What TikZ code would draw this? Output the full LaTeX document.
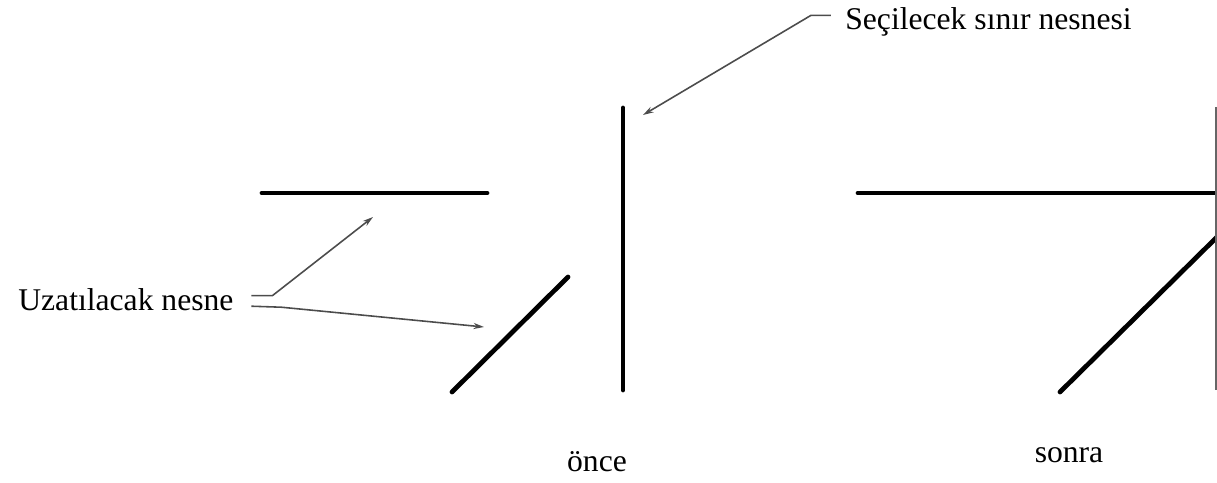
\documentclass[tikz,border=0pt]{standalone}
\usepackage{fontspec}
\setmainfont{Liberation Serif}
\usepackage{tikz}
\usetikzlibrary{arrows.meta,positioning}

\begin{document}
\begin{tikzpicture}[
  x=0.02cm, y=-0.02cm,
  >=Stealth,
  obj/.style={line width=2.7pt, line cap=round},
  ldr/.style={draw=black!70, line width=0.9pt,
              -{Stealth[length=6pt,width=3.5pt]}},
  lbl/.style={font=\fontsize{18}{20}\selectfont, inner sep=0pt},
]
  \useasboundingbox (0,0) rectangle (1217,483);

  %% before: objects to extend and the boundary
  \coordinate (h1a) at (262,193);
  \coordinate (h1b) at (487,193);
  \coordinate (d1a) at (452,392);
  \coordinate (d1b) at (568,277);
  \coordinate (v1a) at (623,108);
  \coordinate (v1b) at (623,390);
  \draw[obj] (h1a) -- (h1b);
  \draw[obj] (d1a) -- (d1b);
  \draw[obj] (v1a) -- (v1b);

  %% after: both objects reach the boundary
  \coordinate (h2a) at (858,193);
  \coordinate (h2b) at (1217,193);
  \coordinate (d2a) at (1060,392);
  \coordinate (d2b) at (1217,237);
  \coordinate (v2a) at (1216,107);
  \coordinate (v2b) at (1216,390);
  \draw[obj] (h2a) -- (h2b);
  \draw[obj] (d2a) -- (d2b);
  \draw[black!60, line width=1pt] (v2a) -- (v2b);

  %% labels
  \node[lbl, anchor=base west] (sel) at (845,30) {Seçilecek sınır nesnesi};
  \node[lbl, anchor=base west] (ext) at (18,310) {Uzatılacak nesne};
  \node[lbl] (once)  at (597,462) {önce};
  \node[lbl] (sonra) at (1069,455) {sonra};

  %% leaders
  \coordinate (selTip) at (643,115);
  \coordinate (extTip1) at (373,217);
  \coordinate (extTip2) at (484,327);
  \draw[ldr] ([xshift=-8pt,yshift=4pt]sel.west) -- ++(-20,0) -- (selTip);
  \draw[ldr] ([xshift=10pt,yshift=2pt]ext.east) -- ++(21,0) -- (extTip1);
  \draw[ldr] ([xshift=10pt,yshift=-4pt]ext.east) -- ++(30,1) -- (extTip2);
\end{tikzpicture}
\end{document}
